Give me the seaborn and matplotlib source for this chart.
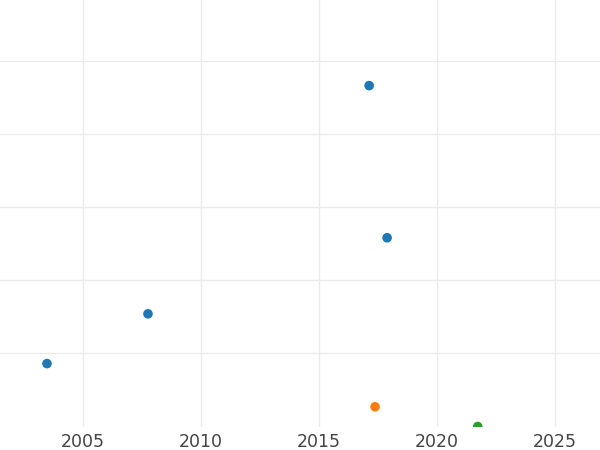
import matplotlib
matplotlib.use('Agg')
import matplotlib.pyplot as plt
import seaborn as sns
import pandas as pd

# values (y axis has no labels, so units are arbitrary)
years = [2003.47, 2007.75, 2017.12, 2017.88, 2017.37, 2021.72]
values = [0.86, 1.54, 4.66, 2.58, 0.27, 0.0]
groups = ['A', 'A', 'A', 'A', 'B', 'C']

df = pd.DataFrame({'year': years, 'value': values, 'group': groups})

sns.set_style('whitegrid')
fig = plt.figure(figsize=(6, 4.5), dpi=100)
ax = fig.add_axes([0, 0.0522, 1, 0.9478])

sns.scatterplot(data=df, x='year', y='value', hue='group',
                palette=['#1f77b4', '#ff7f0e', '#2ca02c'],
                s=48, linewidth=0, legend=False, ax=ax, clip_on=True)

ax.set_xlim(2001.48, 2026.9)
ax.set_ylim(0.0, 5.83)
ax.set_xticks([2005, 2010, 2015, 2020, 2025])
ax.set_yticks([1, 2, 3, 4, 5])
ax.set_yticklabels([])
ax.grid(True, color='#ebebeb', linewidth=1.0)
ax.tick_params(axis='x', length=0, labelsize=12.5, labelcolor='#444444', pad=5)
ax.tick_params(axis='y', length=0)
ax.set_xlabel('')
ax.set_ylabel('')
for sp in ax.spines.values():
    sp.set_visible(False)

fig.savefig('out.png', dpi=100)
